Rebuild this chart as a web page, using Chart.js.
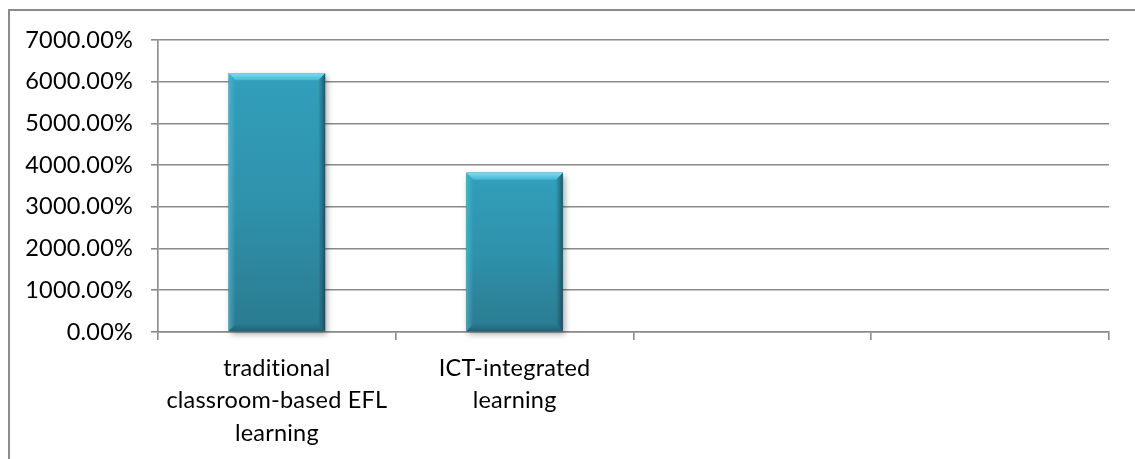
<!DOCTYPE html>
<html>
<head>
<meta charset="utf-8">
<script src="https://cdn.jsdelivr.net/npm/chart.js@4"></script>
<style>
  html, body { margin: 0; padding: 0; background: #fff; }
  #wrap { position: relative; width: 1135px; height: 459px; }
  canvas { display: block; }
</style>
</head>
<body>
<div id="wrap"><canvas id="c" width="1135" height="459"></canvas></div>
<script>
// Categories (two empty slots on the right keep the axis at four positions)
const categories = [
  ["traditional", "classroom-based EFL", "learning"],
  ["ICT-integrated", "learning"],
  "",
  ""
];
// Share of respondents, in percent
const shareValues = [6200, 3820, null, null];
// Value axis range
const yTicks = { min: 0, max: 7000, step: 1000 };

const FONT = "Lato, 'Open Sans', sans-serif";

// Frame drawn around the chart area (left and top edges only are in view)
const framePlugin = {
  id: 'frame',
  beforeDraw(chart) {
    const ctx = chart.ctx;
    // a tiny letter spacing keeps "ti" / "fi" as separate glyphs
    if ('letterSpacing' in ctx) ctx.letterSpacing = '0.2px';
    ctx.save();
    ctx.fillStyle = '#ffffff';
    ctx.fillRect(0, 0, chart.width, chart.height);
    ctx.strokeStyle = '#8c8c8c';
    ctx.lineWidth = 2;
    ctx.beginPath();
    ctx.moveTo(9, chart.height + 2);
    ctx.lineTo(9, 10);
    ctx.lineTo(chart.width + 2, 10);
    ctx.stroke();
    ctx.restore();
  }
};

// Beveled, shaded columns built on top of the bar elements
const bevelPlugin = {
  id: 'bevel',
  beforeDatasetsDraw(chart) {
    const ctx = chart.ctx;
    chart.getDatasetMeta(0).data.forEach((bar, i) => {
      if (shareValues[i] == null) return;
      const { x, y, base, width } = bar.getProps(['x', 'y', 'base', 'width'], true);
      const l = x - width / 2;
      ctx.save();
      ctx.shadowColor = 'rgba(0,0,0,0.35)';
      ctx.shadowBlur = 6;
      ctx.shadowOffsetX = 2;
      ctx.shadowOffsetY = 3;
      ctx.fillStyle = '#2a7f94';
      ctx.fillRect(l, y, width, base - y);
      ctx.restore();
    });
  },
  afterDatasetsDraw(chart) {
    const ctx = chart.ctx;
    chart.getDatasetMeta(0).data.forEach((bar, i) => {
      if (shareValues[i] == null) return;
      const { x, y, base, width } = bar.getProps(['x', 'y', 'base', 'width'], true);
      const l = x - width / 2, r = x + width / 2, h = base - y;
      const b = 7;
      ctx.save();
      // body gradient
      const g = ctx.createLinearGradient(0, y, 0, base);
      g.addColorStop(0, '#329fba');
      g.addColorStop(0.5, '#2f92ac');
      g.addColorStop(1, '#2a7b90');
      ctx.fillStyle = g;
      ctx.fillRect(l, y, width, h);
      // left edge
      const gl = ctx.createLinearGradient(l, 0, l + b, 0);
      gl.addColorStop(0, 'rgba(90,195,220,0.55)');
      gl.addColorStop(1, 'rgba(90,195,220,0)');
      ctx.fillStyle = gl;
      ctx.beginPath();
      ctx.moveTo(l, y); ctx.lineTo(l + b, y + b); ctx.lineTo(l + b, base - b); ctx.lineTo(l, base);
      ctx.closePath(); ctx.fill();
      // right edge
      const gr = ctx.createLinearGradient(r - b, 0, r, 0);
      gr.addColorStop(0, 'rgba(25,70,95,0)');
      gr.addColorStop(1, 'rgba(25,60,85,0.75)');
      ctx.fillStyle = gr;
      ctx.beginPath();
      ctx.moveTo(r, y); ctx.lineTo(r - b, y + b); ctx.lineTo(r - b, base - b); ctx.lineTo(r, base);
      ctx.closePath(); ctx.fill();
      // bottom edge
      const gb = ctx.createLinearGradient(0, base - b, 0, base);
      gb.addColorStop(0, 'rgba(30,90,110,0.1)');
      gb.addColorStop(1, 'rgba(25,75,95,0.55)');
      ctx.fillStyle = gb;
      ctx.beginPath();
      ctx.moveTo(l, base); ctx.lineTo(l + b, base - b); ctx.lineTo(r - b, base - b); ctx.lineTo(r, base);
      ctx.closePath(); ctx.fill();
      // top edge highlight
      const gt = ctx.createLinearGradient(0, y, 0, y + b);
      gt.addColorStop(0, '#7fdcf0');
      gt.addColorStop(1, '#46b6d2');
      ctx.fillStyle = gt;
      ctx.beginPath();
      ctx.moveTo(l, y); ctx.lineTo(r, y); ctx.lineTo(r - b, y + b); ctx.lineTo(l + b, y + b);
      ctx.closePath(); ctx.fill();
      ctx.restore();
    });
  }
};

new Chart(document.getElementById('c'), {
  type: 'bar',
  data: {
    labels: categories,
    datasets: [{
      data: shareValues,
      backgroundColor: 'rgba(0,0,0,0)',
      borderWidth: 0,
      barPercentage: 0.406,
      categoryPercentage: 1.0
    }]
  },
  options: {
    responsive: false,
    animation: false,
    events: [],
    layout: { padding: { top: 40, right: 26, left: 0, bottom: 0 } },
    plugins: { legend: { display: false }, tooltip: { enabled: false } },
    scales: {
      x: {
        afterFit(scale) { scale.height = 127; },
        grid: {
          offset: true,
          drawOnChartArea: false,
          drawTicks: true,
          tickLength: 8,
          color: '#8a8a8a',
          lineWidth: 1.6
        },
        border: { display: true, color: '#8a8a8a', width: 1.6 },
        ticks: {
          color: '#000',
          padding: 12,
          maxRotation: 0,
          autoSkip: false,
          font: { family: FONT, size: 23.5, lineHeight: 1.38 }
        }
      },
      y: {
        min: yTicks.min,
        max: yTicks.max,
        afterFit(scale) { scale.width = 158; },
        grid: {
          drawTicks: true,
          tickLength: 7,
          color: '#8a8a8a',
          lineWidth: 1.6
        },
        border: { display: true, color: '#8a8a8a', width: 1.6 },
        ticks: {
          stepSize: yTicks.step,
          color: '#000',
          padding: 18,
          font: { family: FONT, size: 23.5 },
          callback: v => v.toFixed(2) + '%'
        }
      }
    }
  },
  plugins: [framePlugin, bevelPlugin]
});
</script>
</body>
</html>
